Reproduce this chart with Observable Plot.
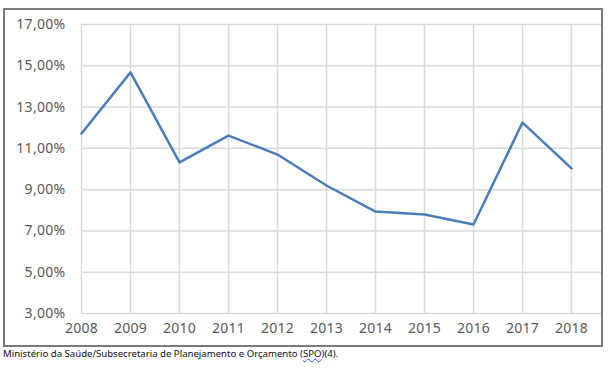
<!DOCTYPE html>
<html><head><meta charset="utf-8">
<script src="https://cdn.jsdelivr.net/npm/d3@7"></script>
<script src="https://cdn.jsdelivr.net/npm/@observablehq/plot@0.6"></script>
<style>
body{margin:0;background:#fff;font-family:"Noto Sans",sans-serif;}
#wrap{position:relative;width:615px;height:374px;}
#frame{position:absolute;left:3px;top:8px;width:596px;height:335px;border:2px solid #7a7a7a;pointer-events:none;}
#chart{position:absolute;left:0;top:0;}
#cap{position:absolute;left:3px;top:347px;font-size:9.6px;color:#111;white-space:nowrap;}
#cap span{text-decoration:underline wavy #3344ff;text-decoration-thickness:1px;}
</style></head>
<body><div id="wrap"><div id="chart"></div><div id="frame"></div>
<div id="cap">Ministério da Saúde/Subsecretaria de Planejamento e Orçamento (<span>SPO</span>)(4).</div></div>
<script>
const years = [2008,2009,2010,2011,2012,2013,2014,2015,2016,2017,2018];
const values = [11.72,14.68,10.32,11.62,10.70,9.20,7.94,7.80,7.31,12.25,10.03];
const yTicks = [3,5,7,9,11,13,15,17];
const data = years.map((y,i)=>({year:y,value:values[i]}));
const fmt = d => d.toFixed(2).replace(".", ",") + "%";
const chart = Plot.plot({
  width:615, height:350,
  marginLeft:81, marginRight:14, marginTop:24, marginBottom:37,
  style:{fontFamily:"Noto Sans", fontSize:"14px", color:"#595959", background:"transparent", letterSpacing:"0.3px"},
  x:{domain:[2008,2018.612], ticks:years, tickFormat:d=>String(d), tickSize:0, tickPadding:10, label:null},
  y:{domain:[3,17], ticks:yTicks, tickFormat:fmt, tickSize:0, tickPadding:16, label:null},
  marks:[
    Plot.ruleY(yTicks, {stroke:"#d9d9d9", strokeWidth:1.5}),
    Plot.ruleX(years, {y1:3, y2:17, stroke:"#d9d9d9", strokeWidth:1.5}),
    Plot.line(data, {x:"year", y:"value", stroke:"#4a7ebb", strokeWidth:2.5})
  ]
});
document.getElementById("chart").append(chart);
</script></body></html>
